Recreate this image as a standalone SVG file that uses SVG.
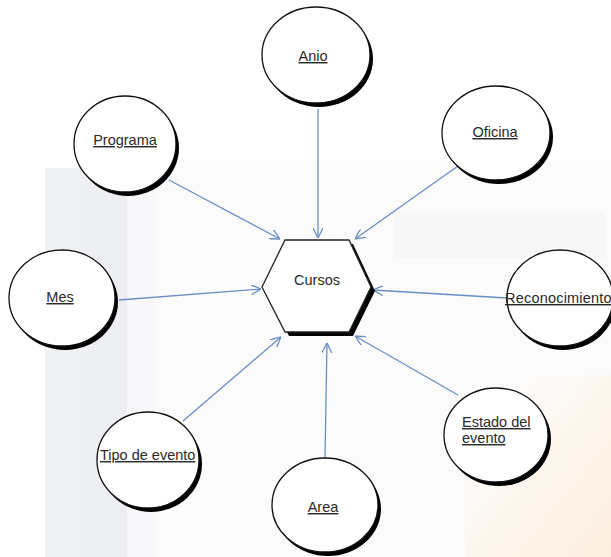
<svg xmlns="http://www.w3.org/2000/svg" width="611" height="557" viewBox="0 0 611 557">
<defs>
<style>
.bg{stroke:none}
.ent{fill:#ffffff;stroke:#111;stroke-width:1.3}
.sh{fill:#000;stroke:none}
.lbl{font-family:"Liberation Sans",Arial,sans-serif;font-size:14.5px;fill:#2a2a2a;text-decoration:underline}
.hex{fill:#ffffff;stroke:#222;stroke-width:1.3}
.hexlbl{font-family:"Liberation Sans",Arial,sans-serif;font-size:14.5px;fill:#2a2a2a}
.con{stroke:#6b8fc5;stroke-width:1.3;fill:none;marker-end:url(#arr)}
</style>
<marker id="arr" viewBox="0 0 10 10" refX="10" refY="5" markerWidth="10" markerHeight="10" markerUnits="userSpaceOnUse" orient="auto">
<path d="M0,0 L10,5 L0,10" fill="none" stroke="#6b8fc5" stroke-width="1.3"/>
</marker>
<linearGradient id="og" x1="0" y1="0" x2="1" y2="1">
<stop offset="0" stop-color="#ffffff" stop-opacity="0"/>
<stop offset="0.5" stop-color="#fdf6ee"/>
<stop offset="1" stop-color="#fcefe0"/>
</linearGradient>
<linearGradient id="gg" x1="0" y1="0" x2="1" y2="0">
<stop offset="0" stop-color="#f0f1f4"/>
<stop offset="1" stop-color="#edeef2"/>
</linearGradient>
</defs>
<rect width="611" height="557" fill="#ffffff"/>
<g id="background">
<rect class="bg" x="157" y="160" width="454" height="397" fill="#fbfbfc"/>
<rect class="bg" x="45" y="168" width="82" height="389" fill="url(#gg)"/>
<rect class="bg" x="127" y="168" width="30" height="389" fill="#f8f8fa"/>
<rect class="bg" x="395" y="212" width="210" height="46" fill="#f7f7f8"/>
<rect class="bg" x="465" y="375" width="146" height="182" fill="url(#og)"/>
</g>
<g id="connectors">
<line class="con" x1="318" y1="109" x2="318" y2="238"/>
<line class="con" x1="169" y1="180" x2="280" y2="239"/>
<line class="con" x1="458" y1="166" x2="355" y2="239"/>
<line class="con" x1="119" y1="300" x2="261" y2="289"/>
<line class="con" x1="507" y1="298" x2="373" y2="290"/>
<line class="con" x1="183" y1="421" x2="281" y2="337"/>
<line class="con" x1="325" y1="458" x2="327" y2="343"/>
<line class="con" x1="458" y1="395" x2="355" y2="336"/>
</g>
<g id="cursos">
<polygon class="sh" points="266,291 289,244 353,244 375,291 353,336 289,336"/>
<polygon class="hex" points="262,287 285,240 349,240 371,287 349,332 285,332"/>
<text class="hexlbl" x="317" y="285" text-anchor="middle">Cursos</text>
</g>
<g id="anio">
<ellipse class="sh" cx="319" cy="59" rx="54" ry="48"/>
<ellipse class="ent" cx="316" cy="55" rx="54" ry="48"/>
<text class="lbl" x="313" y="61" text-anchor="middle">Anio</text>
</g>
<g id="programa">
<ellipse class="sh" cx="128" cy="148" rx="51" ry="48"/>
<ellipse class="ent" cx="125" cy="144" rx="51" ry="48"/>
<text class="lbl" x="125" y="145" text-anchor="middle">Programa</text>
</g>
<g id="oficina">
<ellipse class="sh" cx="499" cy="137" rx="54" ry="47"/>
<ellipse class="ent" cx="496" cy="133" rx="54" ry="47"/>
<text class="lbl" x="495" y="137" text-anchor="middle">Oficina</text>
</g>
<g id="mes">
<ellipse class="sh" cx="65" cy="302" rx="53" ry="48"/>
<ellipse class="ent" cx="62" cy="298" rx="53" ry="48"/>
<text class="lbl" x="60" y="302" text-anchor="middle">Mes</text>
</g>
<g id="reconocimiento">
<ellipse class="sh" cx="563" cy="302" rx="53" ry="48"/>
<ellipse class="ent" cx="560" cy="298" rx="53" ry="48"/>
<text class="lbl" x="505" y="303" letter-spacing="0.2">Reconocimiento</text>
</g>
<g id="tipo_de_evento">
<ellipse class="sh" cx="151" cy="464" rx="51" ry="48"/>
<ellipse class="ent" cx="148" cy="460" rx="51" ry="48"/>
<text class="lbl" x="100" y="460">Tipo de evento</text>
</g>
<g id="estado_del_evento">
<ellipse class="sh" cx="499" cy="439" rx="52" ry="47"/>
<ellipse class="ent" cx="496" cy="435" rx="52" ry="47"/>
<text class="lbl" x="462" y="427">Estado del</text>
<text class="lbl" x="462" y="443">evento</text>
</g>
<g id="area">
<ellipse class="sh" cx="328" cy="509" rx="53" ry="47"/>
<ellipse class="ent" cx="325" cy="505" rx="53" ry="47"/>
<text class="lbl" x="323" y="512" text-anchor="middle">Area</text>
</g>
</svg>
